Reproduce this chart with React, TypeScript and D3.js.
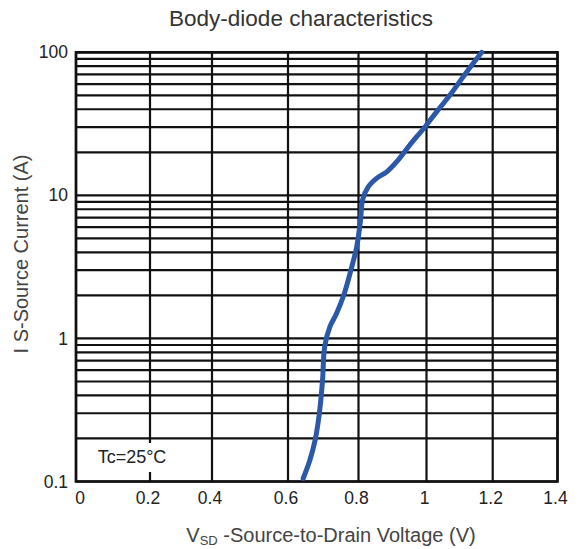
import React from 'react';
import * as d3 from 'd3';

// Curve (VSD in volts, IS in amps)
const vsd = [0.643, 0.662, 0.677, 0.689, 0.698, 0.704, 0.719, 0.738, 0.76, 0.781, 0.795, 0.806, 0.812, 0.829, 0.854, 0.883, 0.917, 0.951, 0.996, 1.031, 1.071, 1.122, 1.167];
const is = [0.105, 0.141, 0.195, 0.3, 0.51, 0.875, 1.21, 1.5, 2.07, 3.17, 4.38, 6.73, 9.29, 11.5, 13.2, 14.6, 17.7, 22.5, 30.2, 38.5, 50.3, 73.2, 100];

const xTicks = [0, 0.2, 0.4, 0.6, 0.8, 1, 1.2, 1.4];
const yTicks = [0.1, 1, 10, 100];

const width = 582;
const height = 549;

const App: React.FC = () => {
  // the scanned grid is not evenly spaced, so map each tick to where it sits
  const x = d3.scaleLinear().domain(xTicks).range([76, 150, 212, 288, 358.5, 426.5, 492.7, 557.5]);
  const y = d3.scaleLog().domain([0.1, 100]).range([481.5, 52.3]);

  // minor log grid: 1..9 in every decade
  const gridY: number[] = [];
  [0.1, 1, 10].forEach(d => {
    for (let m = 1; m <= 9; m++) gridY.push(d * m);
  });
  gridY.push(100);

  const line = d3
    .line<number>()
    .x((_, i) => x(vsd[i]))
    .y(d => y(d))
    .curve(d3.curveCatmullRom.alpha(0.5));

  const [x0, x1] = [x(0), x(1.4)];
  const [y0, y1] = [y(0.1), y(100)];
  const font = 'Arial, "Liberation Sans", sans-serif';

  return (
    <svg
      width={width}
      height={height}
      style={{ position: 'absolute', left: 0, top: 0, background: '#fff' }}
      fontFamily={font}
    >
      <text x={301} y={26} textAnchor="middle" fontSize={22.5} fill="#333">
        Body-diode characteristics
      </text>

      {/* horizontal log grid */}
      {gridY.map(v => (
        <line key={'h' + v} x1={x0} x2={x1} y1={y(v)} y2={y(v)} stroke="#111" strokeWidth={2.2} />
      ))}
      {/* vertical grid */}
      {xTicks.map(v => (
        <line key={'v' + v} x1={x(v)} x2={x(v)} y1={y0} y2={y1} stroke="#111" strokeWidth={2.2} />
      ))}

      {/* Tc label box hides the grid behind it */}
      <rect x={86} y={443} width={94} height={29} fill="#fff" />
      <text x={132} y={463} textAnchor="middle" fontSize={18} fill="#222">
        Tc=25°C
      </text>

      <rect x={x0} y={y1} width={x1 - x0} height={y0 - y1} fill="none" stroke="#111" strokeWidth={2.6} />

      <path d={line(is) ?? ''} fill="none" stroke="#2b58a8" strokeWidth={5} strokeLinecap="round" />

      {yTicks.map(v => (
        <text key={'yt' + v} x={68} y={y(v)} dy="0.35em" textAnchor="end" fontSize={17.5} fill="#222">
          {v}
        </text>
      ))}
      {xTicks.map(v => (
        <text key={'xt' + v} x={v === 0 ? 80 : x(v) - 2} y={504} textAnchor="middle" fontSize={17.5} fill="#222">
          {v}
        </text>
      ))}

      <text x={331} y={542} textAnchor="middle" fontSize={20} fill="#444">
        V<tspan fontSize={13} dy={3}>SD</tspan>
        <tspan dy={-3}> -Source-to-Drain Voltage (V)</tspan>
      </text>
      <text
        transform="translate(28, 254) rotate(-90)"
        textAnchor="middle"
        fontSize={20}
        fill="#444"
      >
        I S-Source Current (A)
      </text>
    </svg>
  );
};

export default App;
